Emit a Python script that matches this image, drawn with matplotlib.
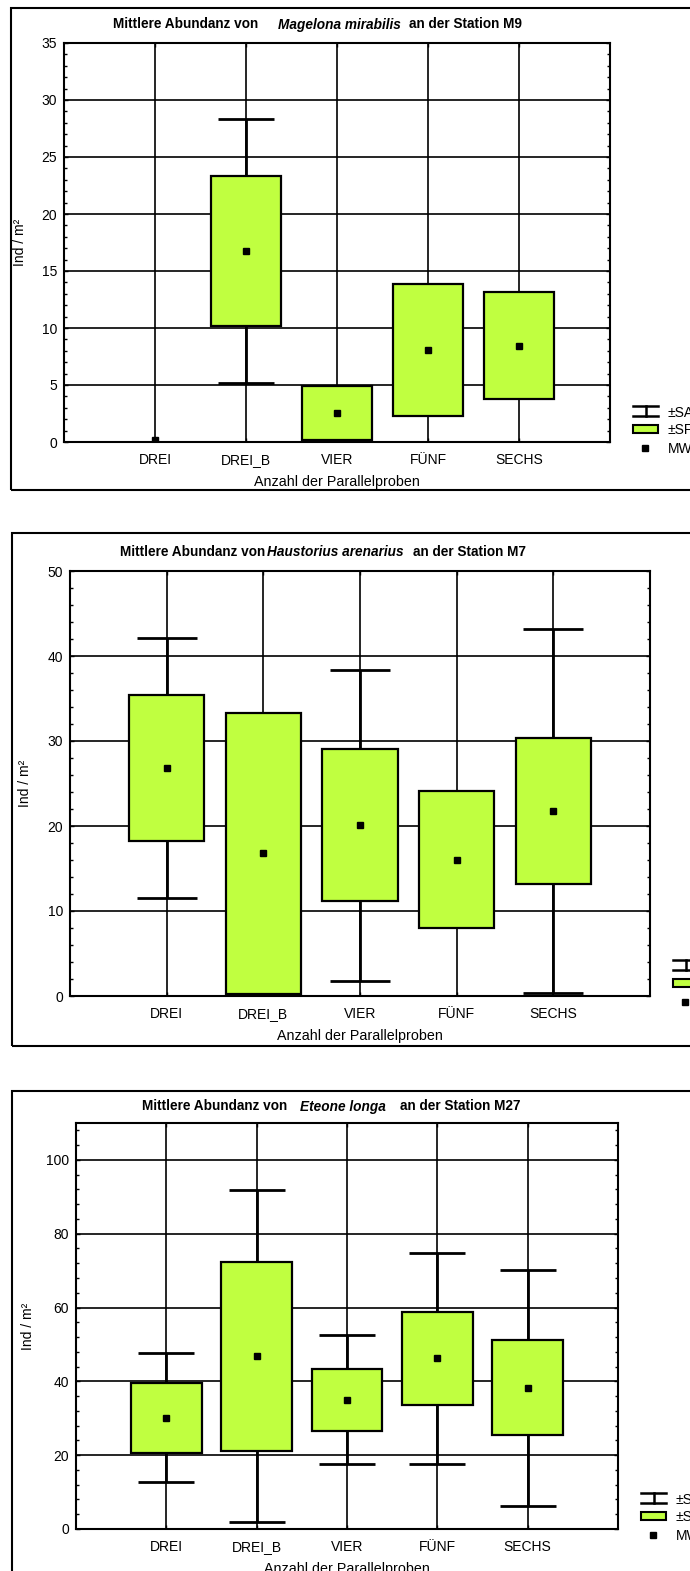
import numpy as np
import matplotlib.pyplot as plt
from matplotlib.lines import Line2D
from matplotlib.patches import Rectangle
from matplotlib.ticker import MultipleLocator

plt.rcParams['font.family'] = ['Liberation Sans', 'DejaVu Sans']

B, H = 690, 1571
gruen = '#c0ff40'

kategorien = ["DREI", "DREI_B", "VIER", "FÜNF", "SECHS"]

# Magelona mirabilis, Station M9  (MW, Standardfehler, Standardabweichung)
mw_m9 = [0.2, 16.75, 2.55, 8.08, 8.45]
sf_m9 = [0.0, 6.57, 2.35, 5.78, 4.71]
sa_m9 = [np.nan, 11.55, np.nan, np.nan, np.nan]

# Haustorius arenarius, Station M7
mw_m7 = [26.8, 16.78, 20.1, 16.05, 21.8]
sf_m7 = [8.62, 16.54, 8.97, 8.03, 8.58]
sa_m7 = [15.3, np.nan, 18.3, np.nan, 21.4]

# Eteone longa, Station M27
mw_m27 = [30.1, 46.8, 35.0, 46.2, 38.3]
sf_m27 = [9.55, 25.65, 8.45, 12.5, 12.8]
sa_m27 = [17.5, 45.0, 17.5, 28.7, 32.0]

fig = plt.figure(figsize=(B / 100, H / 100), dpi=100)


def fx(px):
    return px / B


def fy(py):
    return 1 - py / H


def rahmen(l, o, r, u):
    fig.add_artist(Rectangle((fx(l), fy(u)), (r - l) / B, (u - o) / H,
                             fill=False, edgecolor='black', lw=1.5))


def titel(x, y, teile):
    # teile: (text, kursiv, abstand in px davor)
    rend = fig.canvas.get_renderer()
    for text, kursiv, luecke in teile:
        x += luecke
        t = fig.text(fx(x), fy(y), text, fontsize=9.8, fontweight='bold',
                     fontstyle='italic' if kursiv else 'normal',
                     va='center_baseline', ha='left')
        x = t.get_window_extent(renderer=rend).x1


def legende(rechts, unten):
    x0, x1 = rechts + 23, rechts + 48
    xm = (x0 + x1) / 2
    for y in (unten - 36, unten - 26):
        fig.add_artist(Line2D([fx(x0), fx(x1)], [fy(y), fy(y)], color='black', lw=1.8))
    fig.add_artist(Line2D([fx(xm), fx(xm)], [fy(unten - 36), fy(unten - 26)], color='black', lw=1.8))
    fig.add_artist(Rectangle((fx(x0), fy(unten - 9)), (x1 - x0) / B, 8 / H,
                             facecolor=gruen, edgecolor='black', lw=1.5))
    fig.add_artist(Line2D([fx(xm - 1)], [fy(unten + 6)], marker='s', ms=4.5,
                          color='black', lw=0))
    if rechts + 58 < B - 8:
        for txt, y in (("±SA", unten - 29), ("±SF", unten - 12), ("MW", unten + 7)):
            fig.text(fx(rechts + 58), fy(y), txt, fontsize=10, va='center')


def panel(links, oben, rechts, unten, mw, sf, sa, ymax, major, minor, ylab_dx):
    ax = fig.add_axes([fx(links), fy(unten), (rechts - links) / B, (unten - oben) / H])
    x = np.arange(1, len(kategorien) + 1)
    mw = np.array(mw)
    sf = np.array(sf)
    sa = np.array(sa)

    ok = ~np.isnan(sa)
    ax.vlines(x[ok], (mw - sa)[ok], (mw + sa)[ok], color='black', lw=2, zorder=2)
    ax.hlines((mw + sa)[ok], x[ok] - 0.31, x[ok] + 0.31, color='black', lw=2, zorder=2)
    ax.hlines((mw - sa)[ok], x[ok] - 0.31, x[ok] + 0.31, color='black', lw=2, zorder=2)

    box = sf > 0
    ax.bar(x[box], 2 * sf[box], bottom=(mw - sf)[box], width=0.78, color=gruen,
           edgecolor='black', linewidth=1.6, zorder=3)
    ax.plot(x, mw, 's', ms=4.5, color='black', zorder=4)

    ax.set_xlim(0, 6)
    ax.set_ylim(0, ymax)
    ax.set_xticks(x, kategorien)
    ax.yaxis.set_major_locator(MultipleLocator(major))
    ax.yaxis.set_minor_locator(MultipleLocator(minor))
    ax.set_axisbelow(True)
    ax.grid(True, color='black', lw=1.2)
    ax.tick_params(which='both', direction='in', top=True, right=True,
                   labelsize=10, color='black')
    ax.tick_params(which='major', length=3, width=1)
    ax.tick_params(which='minor', length=2, width=1)
    ax.tick_params(axis='x', pad=8)
    ax.tick_params(axis='y', pad=5)
    for s in ax.spines.values():
        s.set_linewidth(1.5)

    ax.set_ylabel('Ind / m²', fontsize=10)
    ax.yaxis.set_label_coords(-ylab_dx / (rechts - links), 0.5)
    ax.set_xlabel('Anzahl der Parallelproben', fontsize=10.3)
    ax.xaxis.set_label_coords(0.5, -33 / (unten - oben))
    legende(rechts, unten)
    return ax


rahmen(11, 8, 720, 490)
panel(64, 43, 610, 442, mw_m9, sf_m9, sa_m9, 35, 5, 1, 37)
titel(113, 23, [("Mittlere Abundanz von", False, 0), ("Magelona mirabilis", True, 20),
                ("an der Station M9", False, 8)])

rahmen(12, 533, 720, 1046)
panel(70, 571, 650, 996, mw_m7, sf_m7, sa_m7, 50, 10, 2, 38)
titel(120, 550, [("Mittlere Abundanz von", False, 0), ("Haustorius arenarius", True, 2),
                 ("an der Station M7", False, 9)])

rahmen(12, 1091, 720, 1620)
panel(76, 1123, 618, 1529, mw_m27, sf_m27, sa_m27, 110, 20, 4, 41)
titel(142, 1105, [("Mittlere Abundanz von", False, 0), ("Eteone longa", True, 13),
                  ("an der Station M27", False, 14)])

fig.savefig('out.png', dpi=100)
